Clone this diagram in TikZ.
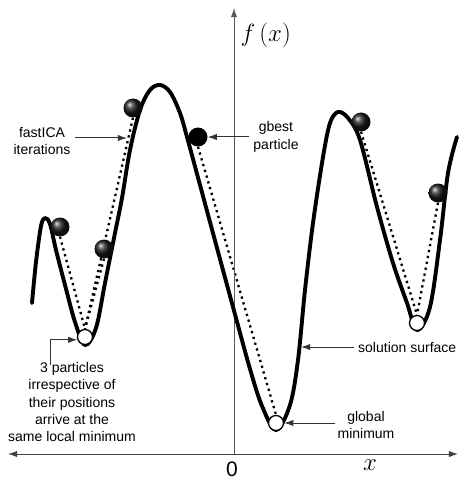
\documentclass[tikz,border=0pt]{standalone}
\usepackage{fontspec}
\setmainfont{Liberation Sans}
\usepackage{tikz}
\usetikzlibrary{arrows.meta,positioning,calc,backgrounds}

\begin{document}
\begin{tikzpicture}[
  x=1pt, y=-1pt,
  surface/.style={draw, line width=3.9pt, line cap=round, line join=round},
  axis/.style={draw=black!75, line width=0.9pt},
  track/.style={draw, line width=2.3pt, dash pattern=on 2.3pt off 3.7pt},
  particle/.style={circle, inner sep=0pt, minimum size=19pt, ball color=black!90},
  best/.style={circle, inner sep=0pt, minimum size=19pt, fill=black},
  minpt/.style={circle, draw, fill=white, inner sep=0pt, minimum size=15pt, line width=1.3pt},
  lbl/.style={align=center, font=\fontsize{14}{17.4}\selectfont, inner sep=0pt},
  arr/.style={draw=black!80, line width=1pt, -{Latex[length=3.2mm, width=2.2mm]}}
]
\useasboundingbox (0,0) rectangle (458,481);

% axes
\coordinate (xl) at (8,454);
\coordinate (xr) at (458,454);
\coordinate (yb) at (234,454);
\coordinate (yt) at (234,8);
\draw[axis, {Latex[length=3.2mm, width=2.2mm]}-{Latex[length=3.2mm, width=2.2mm]}] (xl) -- (xr);
\draw[axis, draw=black!65, -{Latex[length=3.2mm, width=2.2mm]}] (yb) -- (yt);
\node[font=\fontsize{24}{28}\selectfont, anchor=west] (fx) at (237,35) {$f\,(x)$};
\node[font=\fontsize{21}{24}\selectfont] (zero) at (232,469) {0};
\node[font=\fontsize{26}{28}\selectfont] (xx) at (370,465) {$x$};

% solution surface
\draw[surface] plot[smooth, tension=0.55] coordinates {
  (32,303) (36,262) (41,226) (45,218) (50,224) (56,250) (65,285) (75,322)
  (85,345) (96,328) (105,283) (115,233) (122,198) (130,150) (140,110)
  (150,90) (160,85) (170,92) (180,113) (187,137) (200,185) (217,248)
  (233,307) (250,369) (262,406) (276,430) (290,405) (298,360) (305,290)
  (313,223) (323,157) (330,123) (338,112) (348,118) (360,140) (377,207)
  (393,263) (407,303) (417,330) (430,307) (440,240) (448,173) (457,137)};

% minima
\node[minpt] (lmin) at (85,337) {};
\node[minpt] (gmin) at (276,423) {};
\node[minpt] (rmin) at (417,323) {};

% particles
\node[particle] (p1) at (133,108) {};
\node[particle] (p2) at (60,227) {};
\node[particle] (p3) at (104,249) {};
\node[best]     (gb) at (198,137) {};
\node[particle] (p4) at (361,122) {};
\node[particle] (p5) at (438,193) {};

% fastICA iterations
\begin{pgfonlayer}{background}
\draw[track] (p1.south) -- (lmin.north);
\draw[track] (p2.south) -- (lmin.north);
\draw[track] (p3.south) -- (lmin.north);
\draw[track] (gb.south) -- (gmin.north);
\draw[track] (p4.south) -- (rmin.north);
\draw[track] (p5.south) -- (rmin.north);
\end{pgfonlayer}

% labels
\node[lbl] (fast) at (42,141) {fastICA\\iterations};
\coordinate (fa) at (127,138);
\draw[arr] (fast.east |- fa) ++(4,0) -- (fa);

\node[lbl] (gbl) at (276,137) {gbest\\particle};
\draw[arr] (gbl.west) ++(-4,0) -- (gb.east);

\node[lbl] (lml) at (72,402) {3 particles\\irrespective of\\their positions\\arrive at the\\same local minimum};
\draw[arr] ([xshift=-22pt, yshift=-3pt]lml.north) |- (lmin.200);

\node[lbl, anchor=west] (sol) at (358,347) {solution surface};
\coordinate (surf) at (301,347);
\draw[arr] (sol.west) ++(-4,0) -- (surf);

\node[lbl] (gml) at (366,425) {global\\minimum};
\draw[arr] (gml.west |- gmin) ++(-2,0) -- (gmin.east);
\end{tikzpicture}
\end{document}
